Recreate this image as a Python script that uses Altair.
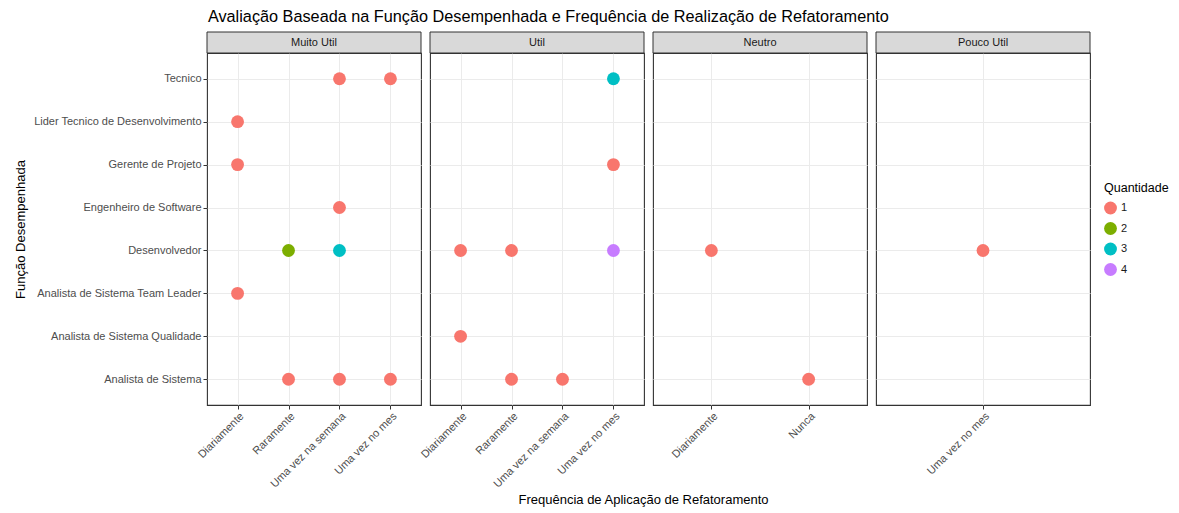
import altair as alt
import pandas as pd

# ---- data ----
funcoes = [
    "Tecnico",
    "Lider Tecnico de Desenvolvimento",
    "Gerente de Projeto",
    "Engenheiro de Software",
    "Desenvolvedor",
    "Analista de Sistema Team Leader",
    "Analista de Sistema Qualidade",
    "Analista de Sistema",
]
avaliacoes = ["Muito Util", "Util", "Neutro", "Pouco Util"]
freq_muito_util = ["Diariamente", "Raramente", "Uma vez na semana", "Uma vez no mes"]
freq_util = ["Diariamente", "Raramente", "Uma vez na semana", "Uma vez no mes"]
freq_neutro = ["Diariamente", "Nunca"]
freq_pouco_util = ["Uma vez no mes"]
quantidades = ["1", "2", "3", "4"]
cores = ["#F8766D", "#7CAE00", "#00BFC4", "#C77CFF"]

pt_avaliacao = (["Muito Util"] * 11) + (["Util"] * 8) + (["Neutro"] * 2) + ["Pouco Util"]
pt_funcao = [
    "Tecnico", "Tecnico", "Lider Tecnico de Desenvolvimento", "Gerente de Projeto",
    "Engenheiro de Software", "Desenvolvedor", "Desenvolvedor",
    "Analista de Sistema Team Leader", "Analista de Sistema", "Analista de Sistema", "Analista de Sistema",
    "Tecnico", "Gerente de Projeto", "Desenvolvedor", "Desenvolvedor", "Desenvolvedor",
    "Analista de Sistema Qualidade", "Analista de Sistema", "Analista de Sistema",
    "Desenvolvedor", "Analista de Sistema",
    "Desenvolvedor",
]
pt_frequencia = [
    "Uma vez na semana", "Uma vez no mes", "Diariamente", "Diariamente",
    "Uma vez na semana", "Raramente", "Uma vez na semana",
    "Diariamente", "Raramente", "Uma vez na semana", "Uma vez no mes",
    "Uma vez no mes", "Uma vez no mes", "Diariamente", "Raramente", "Uma vez no mes",
    "Diariamente", "Raramente", "Uma vez na semana",
    "Diariamente", "Nunca",
    "Uma vez no mes",
]
pt_quantidade = [
    "1", "1", "1", "1",
    "1", "2", "3",
    "1", "1", "1", "1",
    "3", "1", "1", "1", "4",
    "1", "1", "1",
    "1", "1",
    "1",
]

df = pd.DataFrame({
    "avaliacao": pt_avaliacao,
    "funcao": pt_funcao,
    "frequencia": pt_frequencia,
    "quantidade": pt_quantidade,
})
freq_por_painel = {
    "Muito Util": freq_muito_util,
    "Util": freq_util,
    "Neutro": freq_neutro,
    "Pouco Util": freq_pouco_util,
}

W = 214
H = 352
STRIP = 21
FONT = "Liberation Sans"


def painel(idx, nome):
    d = df[df["avaliacao"] == nome]
    if idx == 0:
        yaxis = alt.Axis(title="Função Desempenhada", grid=True, gridColor="#EBEBEB",
                         domain=False, tickColor="#333333", tickSize=4,
                         labelColor="#4D4D4D", labelFontSize=11, labelPadding=2,
                         titleFontSize=13, titleFontWeight="normal", titleColor="#000000",
                         titlePadding=6)
    else:
        yaxis = alt.Axis(title=None, grid=True, gridColor="#EBEBEB", domain=False,
                         ticks=False, labels=False)
    xkw = dict(grid=True, gridColor="#EBEBEB", domain=False, tickColor="#333333",
               tickSize=4, labelColor="#4D4D4D", labelFontSize=11, labelAngle=315,
               labelAlign="right", labelBaseline="top", labelPadding=1)
    if idx == 1:
        xaxis = alt.Axis(title="Frequência de Aplicação de Refatoramento", titleX=213,
                         titleY=88, titleBaseline="top", titleFontSize=13,
                         titleFontWeight="normal", titleColor="#000000", **xkw)
    else:
        xaxis = alt.Axis(title=None, **xkw)

    pts = alt.Chart(d).mark_circle(size=165, opacity=1).encode(
        x=alt.X("frequencia:N", scale=alt.Scale(type="point", domain=freq_por_painel[nome], padding=0.6),
                axis=xaxis),
        y=alt.Y("funcao:N", scale=alt.Scale(type="point", domain=funcoes, padding=0.6),
                axis=yaxis, sort=funcoes),
        color=alt.Color("quantidade:N",
                        scale=alt.Scale(domain=quantidades, range=cores),
                        legend=alt.Legend(title="Quantidade", orient="none",
                                          legendX=897, legendY=129,
                                          titleFontSize=12.5, titleFontWeight="normal",
                                          titleColor="#000000", labelFontSize=11,
                                          labelColor="#1A1A1A", symbolType="circle",
                                          symbolSize=165, symbolStrokeWidth=0,
                                          titlePadding=7, rowPadding=7.5, padding=0)),
    )
    strip_df = pd.DataFrame({"rotulo": [nome]})
    strip = alt.Chart(strip_df).mark_rect(fill="#D9D9D9", stroke="#333333", strokeWidth=1).encode(
        x=alt.value(0), x2=alt.value(W), y=alt.value(-STRIP), y2=alt.value(0)
    )
    strip_txt = alt.Chart(strip_df).mark_text(fontSize=11, color="#1A1A1A", font=FONT,
                                              baseline="middle", align="center").encode(
        text="rotulo:N", x=alt.value(W / 2), y=alt.value(-STRIP / 2)
    )
    return alt.layer(strip, pts, strip_txt).properties(width=W, height=H)


paineis = [painel(i, n) for i, n in enumerate(avaliacoes)]

chart = alt.hconcat(*paineis, spacing=9, bounds="flush").properties(
    title=alt.TitleParams(
        "Avaliação Baseada na Função Desempenhada e Frequência de Realização de Refatoramento",
        anchor="start", fontSize=16.25, fontWeight="normal", color="#000000", font=FONT,
        offset=6, dx=194,
    ),
    padding={"left": 5, "top": 0, "right": 0, "bottom": 0},
).configure(font=FONT).configure_view(stroke="#333333", strokeWidth=1.1).configure_axis(
    labelFont=FONT, titleFont=FONT
).configure_legend(labelFont=FONT, titleFont=FONT)

chart.save("out.html", embed_options={"renderer": "svg", "actions": False})
